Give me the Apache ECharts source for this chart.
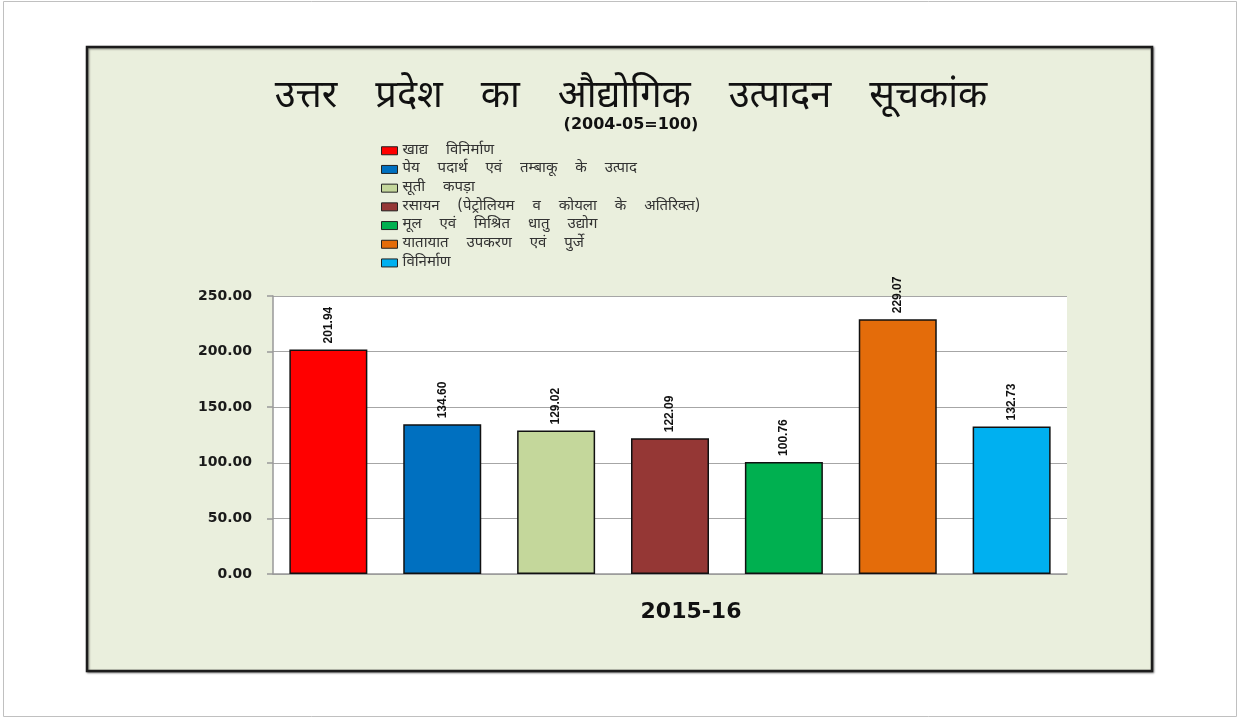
<!DOCTYPE html>
<html>
<head>
<meta charset="utf-8">
<script src="https://cdn.jsdelivr.net/npm/echarts@6/dist/echarts.min.js"></script>
<style>
html,body{margin:0;padding:0;background:#fff;}
#chart{width:1241px;height:719px;}
</style>
</head>
<body>
<div id="chart"></div>
<script>
const categories = ['2015-16'];
const seriesNames = [
  'खाद्य विनिर्माण',
  'पेय पदार्थ एवं तम्बाकू के उत्पाद',
  'सूती कपड़ा',
  'रसायन (पेट्रोलियम व कोयला के अतिरिक्त)',
  'मूल एवं मिश्रित धातु उद्योग',
  'यातायात उपकरण एवं पुर्जे',
  'विनिर्माण'
];
const seriesValues = [201.94, 134.60, 129.02, 122.09, 100.76, 229.07, 132.73];
const seriesColors = ['#FF0000', '#0070C0', '#C4D79B', '#953735', '#00B050', '#E46C0A', '#00B0F0'];
const yTicks = [0, 50, 100, 150, 200, 250];
const titleText = 'उत्तर प्रदेश का औद्योगिक उत्पादन सूचकांक';
const subTitleText = '(2004-05=100)';

const hindiFont = "'Noto Sans Devanagari', 'Noto Sans', sans-serif";

// wrap each word in a rich-text box so words are spread like the stretched original
const spreadWords = (s, key) => s.split(' ').map(w => '{' + key + '|' + w + '}').join(' ');

const chart = echarts.init(document.getElementById('chart'), null, {renderer: 'canvas'});

const series = seriesNames.map((name, i) => ({
  name: name,
  type: 'bar',
  data: [seriesValues[i]],
  barWidth: 78,
  barGap: '46%',
  itemStyle: {color: seriesColors[i], borderColor: '#111', borderWidth: 1.5},
  label: {
    show: true,
    position: 'top',
    rotate: 90,
    distance: 6,
    align: 'left',
    verticalAlign: 'middle',
    fontFamily: "'Liberation Sans', Arial, sans-serif",
    fontSize: 12,
    fontWeight: 'bold',
    color: '#111',
    formatter: p => p.value.toFixed(2)
  }
}));

chart.setOption({
  animation: false,
  backgroundColor: '#ffffff',
  graphic: [
    {type: 'rect', z: -10, shape: {x: 3.5, y: 1.5, width: 1233, height: 715},
     style: {fill: '#ffffff', stroke: '#c0c0c0', lineWidth: 1}},
    {type: 'rect', z: -9, shape: {x: 87, y: 47, width: 1065, height: 624},
     style: {fill: '#EAEFDD', stroke: '#1c1c1c', lineWidth: 2.5,
             shadowColor: 'rgba(0,0,0,0.45)', shadowBlur: 2, shadowOffsetX: 1, shadowOffsetY: 1}}
  ],
  title: {
    text: spreadWords(titleText, 't'),
    subtext: subTitleText,
    left: 626,
    top: 76,
    textAlign: 'center',
    itemGap: -2,
    textStyle: {
      fontFamily: hindiFont, fontSize: 38, fontWeight: 'normal', color: '#111',
      rich: {t: {fontFamily: hindiFont, fontSize: 38, color: '#111', padding: [0, 14, 0, 14]}}
    },
    subtextStyle: {fontFamily: "'DejaVu Sans', sans-serif", fontSize: 16, fontWeight: 'bold', color: '#111'}
  },
  legend: {
    orient: 'vertical',
    left: 376,
    top: 138,
    itemWidth: 16,
    itemHeight: 8,
    itemGap: 3.2,
    icon: 'rect',
    data: seriesNames,
    itemStyle: {borderColor: '#222', borderWidth: 1},
    formatter: name => spreadWords(name, 'l'),
    textStyle: {
      fontFamily: hindiFont, fontSize: 15, color: '#333', lineHeight: 15.5,
      rich: {l: {fontFamily: hindiFont, fontSize: 15, color: '#333', lineHeight: 15.5, padding: [0, 14, 0, 0]}}
    }
  },
  grid: {left: 273, right: 174, top: 296, bottom: 145, containLabel: false,
         show: true, backgroundColor: '#ffffff', borderWidth: 0},
  xAxis: {
    type: 'category',
    data: categories,
    axisLine: {show: true, lineStyle: {color: '#999999', width: 1.5}},
    axisTick: {show: false},
    axisLabel: {
      margin: 27,
      fontFamily: "'DejaVu Sans', sans-serif",
      fontSize: 22,
      fontWeight: 'bold',
      color: '#111',
      padding: [0, 0, 0, 42]
    }
  },
  yAxis: {
    type: 'value',
    min: 0,
    max: 250,
    interval: 50,
    axisLine: {show: true, lineStyle: {color: '#999999', width: 1.5}},
    axisTick: {show: true, length: 6, lineStyle: {color: '#999999', width: 1.5}},
    splitLine: {show: true, lineStyle: {color: '#a6a6a6', width: 1.2}},
    axisLabel: {
      margin: 21,
      fontFamily: "'DejaVu Sans', sans-serif",
      fontSize: 14,
      fontWeight: 'bold',
      color: '#1a1a1a',
      formatter: v => yTicks.includes(v) ? v.toFixed(2) : ''
    }
  },
  series: series
});
</script>
</body>
</html>
